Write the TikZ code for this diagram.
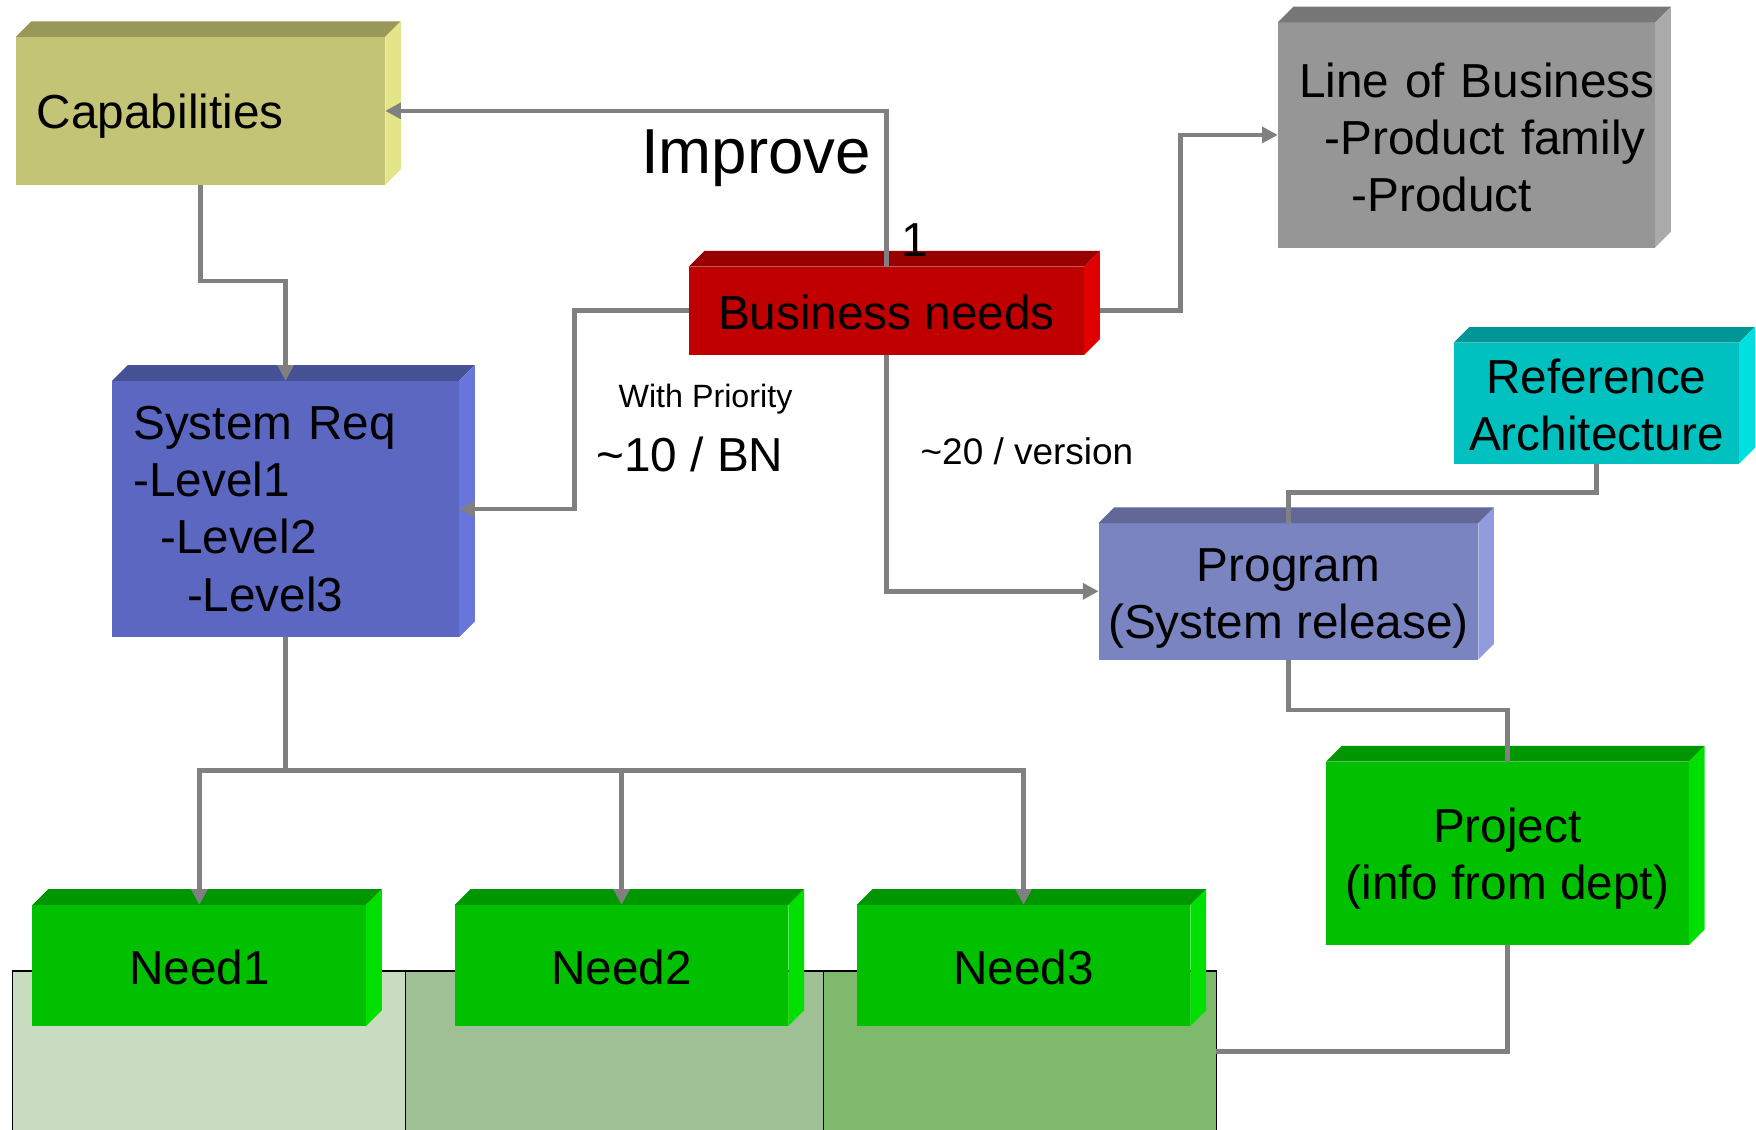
\documentclass[tikz,border=0pt]{standalone}
\usepackage{fontspec}
\setmainfont{Liberation Sans}
\usetikzlibrary{arrows.meta,calc}
\definecolor{capF}{RGB}{196,196,119}\definecolor{capT}{RGB}{152,152,88}\definecolor{capS}{RGB}{228,228,136}
\definecolor{bnF}{RGB}{192,0,0}\definecolor{bnT}{RGB}{153,0,0}\definecolor{bnS}{RGB}{224,0,0}
\definecolor{lobF}{RGB}{150,150,150}\definecolor{lobT}{RGB}{119,119,119}\definecolor{lobS}{RGB}{170,170,170}
\definecolor{srF}{RGB}{91,103,192}\definecolor{srT}{RGB}{71,82,150}\definecolor{srS}{RGB}{104,118,220}
\definecolor{prF}{RGB}{122,132,192}\definecolor{prT}{RGB}{97,104,150}\definecolor{prS}{RGB}{145,155,222}
\definecolor{raF}{RGB}{0,192,192}\definecolor{raT}{RGB}{0,150,150}\definecolor{raS}{RGB}{0,224,224}
\definecolor{gF}{RGB}{0,192,0}\definecolor{gT}{RGB}{0,150,0}\definecolor{gS}{RGB}{0,224,0}
\definecolor{bgA}{RGB}{200,221,191}\definecolor{bgB}{RGB}{158,192,148}\definecolor{bgC}{RGB}{126,185,110}
\definecolor{linegray}{RGB}{128,128,128}
\newcommand\mainsize{\fontsize{21.3pt}{25.5pt}\selectfont}
\newcommand\lift[1]{\rule{0pt}{#1}}
\newcommand\cubefaces[3]{%
  \fill[#2] (#1.north west) -- ([shift={(14,-14)}]#1.north west) -- ([shift={(14,-14)}]#1.north east) -- (#1.north east) -- cycle;
  \fill[#3] (#1.north east) -- ([shift={(14,-14)}]#1.north east) -- ([shift={(14,-14)}]#1.south east) -- (#1.south east) -- cycle;}
\tikzset{
  cube/.style={anchor=north west, inner sep=0pt, outer sep=0pt, font=\mainsize, align=center},
  leftcube/.style={anchor=north west, inner xsep=9.5pt, inner ysep=0pt, outer sep=0pt, font=\mainsize, align=left},
  bgrect/.style={anchor=north west, draw=black, line width=0.5pt, inner sep=0pt, outer sep=0pt},
  conn/.style={draw=linegray, line width=2.1pt},
  arr/.style={-{Triangle[length=7pt,width=7pt]}},
  lbl/.style={inner sep=0pt}
}
\begin{document}
\begin{tikzpicture}[x=0.5pt,y=-0.5pt]
\useasboundingbox (0,0) rectangle (1568,1009);
% background bands
\node[bgrect, fill=bgA, minimum width=175.5pt, minimum height=72pt] (bg1) at (11,867) {};
\node[bgrect, fill=bgB, minimum width=186.5pt, minimum height=72pt] (bg2) at (362,867) {};
\node[bgrect, fill=bgC, minimum width=175.5pt, minimum height=72pt] (bg3) at (735,867) {};
% boxes
\node[leftcube, fill=capF, text width=146pt, minimum height=66pt] (cap) at (14,33) {\lift{20.3pt}Capabilities};
\cubefaces{cap}{capT}{capS}
\node[cube, fill=bnF, minimum width=176.5pt, minimum height=39.5pt] (bn) at (615,238) {\lift{17.3pt}Business needs};
\cubefaces{bn}{bnT}{bnS}
\node[leftcube, fill=lobF, text width=149.5pt, minimum height=100.5pt] (lob) at (1141,20)
  {\mbox{\lift{17.5pt}Line of Business}\\\mbox{\hspace*{11.5pt}-Product family}\\\mbox{\hspace*{23.5pt}-Product}};
\cubefaces{lob}{lobT}{lobS}
\node[leftcube, fill=srF, text width=136pt, minimum height=114.5pt] (sr) at (100,340)
  {System Req\\-Level1\\\hspace*{12pt}-Level2\\\hspace*{24pt}-Level3};
\cubefaces{sr}{srT}{srS}
\node[cube, fill=raF, minimum width=127.5pt, minimum height=54pt] (ra) at (1298,306) {\lift{17.3pt}Reference\\Architecture};
\cubefaces{ra}{raT}{raS}
\node[cube, fill=prF, minimum width=169.5pt, minimum height=61pt] (prog) at (981,467) {\lift{21.3pt}Program\\(System release)};
\cubefaces{prog}{prT}{prS}
\node[cube, fill=gF, minimum width=162pt, minimum height=82pt] (proj) at (1184,680) {\lift{20.3pt}Project\\(info from dept)};
\cubefaces{proj}{gT}{gS}
\node[cube, fill=gF, minimum width=149pt, minimum height=54pt] (n1) at (29,808) {\lift{17.3pt}Need1};
\cubefaces{n1}{gT}{gS}
\node[cube, fill=gF, minimum width=149pt, minimum height=54pt] (n2) at (406,808) {\lift{17.3pt}Need2};
\cubefaces{n2}{gT}{gS}
\node[cube, fill=gF, minimum width=149pt, minimum height=54pt] (n3) at (765,808) {\lift{17.3pt}Need3};
\cubefaces{n3}{gT}{gS}
% labels
\node[lbl, font=\fontsize{28.4pt}{34pt}\selectfont] (improve) at (675,141) {Improve};
\node[lbl, font=\mainsize] (one) at (817,214) {1};
\node[lbl, font=\fontsize{14.4pt}{17pt}\selectfont] (prio) at (630,356) {With Priority};
\node[lbl, font=\mainsize] (tenbn) at (616,406) {\textasciitilde10 / BN};
\node[lbl, font=\fontsize{16.5pt}{20pt}\selectfont] (twentyv) at (917,403) {\textasciitilde20 / version};
% connectors
\draw[conn,arr] (bn.north) |- (cap.east);
\draw[conn,arr] ([xshift=7pt]bn.east) -- ++(72,0) |- (lob.west);
\draw[conn,arr] (bn.west) -- ++(-102,0) |- (sr.east);
\draw[conn,arr] (cap.south) -- ++(0,86) -| (sr.north);
\coordinate (bus) at ($(sr.south)+(0,119)$);
\draw[conn] (sr.south) -- (bus);
\draw[conn,arr] (bus) -| (n1.north);
\draw[conn,arr] (bus) -| (n2.north);
\draw[conn,arr] (bus) -| (n3.north);
\draw[conn,arr] (bn.south) |- (prog.west);
\draw[conn] (ra.south) -- ++(0,26) -| (prog.north);
\draw[conn] (prog.south) -- ++(0,45) -| (proj.north);
\draw[conn] (proj.south) |- (bg3.east);
\end{tikzpicture}
\end{document}
